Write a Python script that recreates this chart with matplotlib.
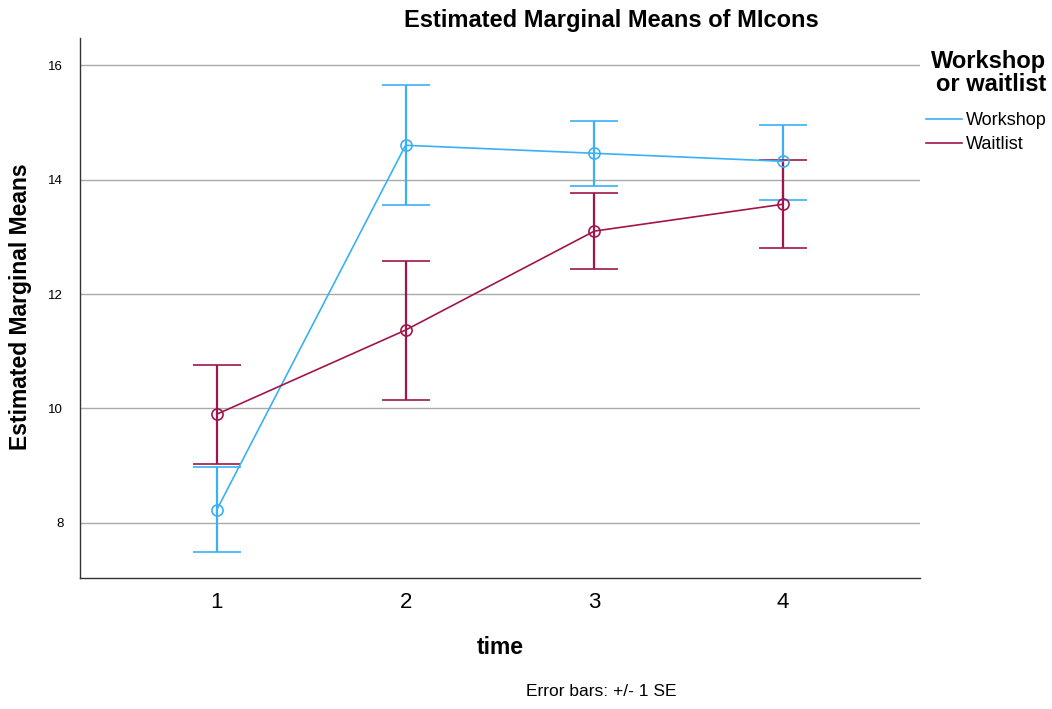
import numpy as np
import matplotlib
matplotlib.use("Agg")
import matplotlib.pyplot as plt

plt.rcParams["font.family"] = ["Liberation Sans", "DejaVu Sans"]

time_points = [1, 2, 3, 4]

workshop_mean  = [8.23, 14.60, 14.46, 14.32]
workshop_upper = [8.98, 15.65, 15.02, 14.96]
workshop_lower = [7.49, 13.56, 13.89, 13.64]

waitlist_mean  = [9.90, 11.37, 13.10, 13.57]
waitlist_upper = [10.76, 12.58, 13.76, 14.34]
waitlist_lower = [9.03, 10.15, 12.44, 12.80]

series = [
    ("Workshop", workshop_mean, workshop_lower, workshop_upper, "#3AB0F5"),
    ("Waitlist", waitlist_mean, waitlist_lower, waitlist_upper, "#A0164C"),
]

W, H = 1052, 709
fig = plt.figure(figsize=(W / 100, H / 100), dpi=100)
ax = fig.add_axes([0.076, 0.185, 0.7985, 0.761])

for (name, m, lo, hi, col) in series:
    m = np.array(m)
    yerr = [m - np.array(lo), np.array(hi) - m]
    ax.errorbar(time_points, m, yerr=yerr, color=col, linewidth=1.2,
                elinewidth=1.6, capsize=17, capthick=1.6,
                marker="o", markersize=8, markerfacecolor="none",
                markeredgewidth=1.2, label=name, zorder=3)

ax.set_xlim(0.275, 4.725)
ax.set_ylim(7.04, 16.47)
ax.set_xticks(time_points)
ax.set_yticks([8, 10, 12, 14, 16])
ax.tick_params(axis="x", length=0, labelsize=16, pad=10)
ax.tick_params(axis="y", length=0, labelsize=9.5, pad=12)
ax.yaxis.grid(True, color="#aaaaaa", linewidth=1)
ax.set_axisbelow(True)
for s in ["top", "right"]:
    ax.spines[s].set_visible(False)
for s in ["left", "bottom"]:
    ax.spines[s].set_color("#333333")
    ax.spines[s].set_linewidth(1)

fig.text(21 / W, 1 - 307 / H, "Estimated Marginal Means", rotation=90,
         ha="center", va="center", fontsize=16.5, fontweight="bold")
fig.text(500 / W, 1 - 648 / H, "time", ha="center", va="center",
         fontsize=16.5, fontweight="bold")
fig.text(601 / W, 1 - 692 / H, "Error bars: +/- 1 SE", ha="center",
         va="center", fontsize=12.5)
fig.text(611 / W, 1 - 20 / H, "Estimated Marginal Means of MIcons",
         ha="center", va="center", fontsize=17, fontweight="bold")

# legend title drawn separately so it can be right aligned
fig.text(1046 / W, 1 - 73 / H, "Workshop\nor waitlist", ha="right",
         va="center", multialignment="right", fontsize=17,
         fontweight="bold", linespacing=1.05)

handles = [plt.Line2D([], [], color=col, linewidth=1.2) for (_, _, _, _, col) in series]
leg = fig.legend(handles, [s[0] for s in series], loc="upper left",
                 bbox_to_anchor=(926 / W, 1 - 112 / H), frameon=False,
                 fontsize=13, handlelength=2.0, handletextpad=0.22,
                 labelspacing=0.38, borderpad=0, borderaxespad=0)

fig.savefig("out.png", dpi=100)
